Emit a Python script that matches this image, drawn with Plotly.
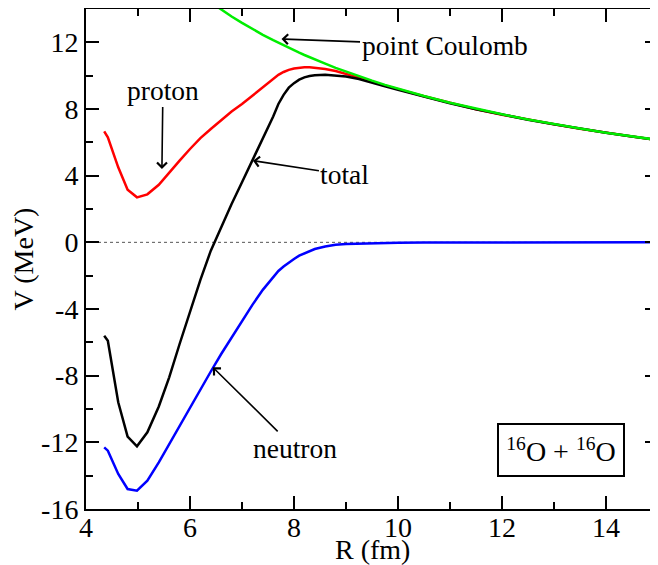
import plotly.graph_objects as go

# ---------------- data ----------------
R = [4.35, 4.42, 4.62, 4.8, 4.98, 5.18, 5.4, 5.6, 5.8, 6.0, 6.2, 6.4, 6.6, 6.8,
     7.0, 7.2, 7.4, 7.6, 7.7, 7.8, 7.9, 8.0, 8.1, 8.2, 8.3, 8.4, 8.6, 8.8, 9.0, 9.25, 9.5, 9.75,
     10.0, 10.5, 11.0, 11.5, 12.0, 12.5, 13.0, 13.5, 14.0, 14.5, 15.0]

V_proton = [6.66, 6.3, 4.5, 3.16, 2.7, 2.88, 3.45, 4.2, 4.9, 5.6, 6.25, 6.8, 7.35, 7.85,
            8.3, 8.8, 9.3, 9.8, 10.05, 10.22, 10.35, 10.43, 10.48, 10.5, 10.5, 10.48, 10.4, 10.28,
            10.12, 9.88, 9.63, 9.4,
            9.19, 8.76, 8.36, 7.99, 7.66, 7.36, 7.08, 6.82, 6.57, 6.35, 6.13]

V_total = [-5.6, -5.9, -9.6, -11.66, -12.24, -11.4, -9.85, -8.1, -6.1, -4.1, -2.25, -0.5, 0.95, 2.3,
           3.6, 4.9, 6.2, 7.55, 8.3, 8.85, 9.28, 9.55, 9.76, 9.9, 9.98, 10.02, 10.05, 10.02,
           9.95, 9.8, 9.57, 9.36,
           9.16, 8.75, 8.35, 7.99, 7.66, 7.36, 7.08, 6.82, 6.57, 6.35, 6.13]

V_neutron = [-12.3, -12.5, -13.9, -14.8, -14.9, -14.3, -13.2, -12.1, -11.0, -9.9, -8.8, -7.75, -6.7, -5.7,
             -4.75, -3.75, -2.85, -2.05, -1.72, -1.45, -1.2, -1.0, -0.8, -0.65, -0.5, -0.4, -0.25, -0.15,
             -0.1, -0.07, -0.05, -0.03,
             -0.02, -0.01, -0.01, 0.0, 0.0, 0.0, 0.0, 0.0, 0.0, 0.0, 0.0]

V_coulomb = [21.2, 20.9, 19.9, 19.2, 18.5, 17.8, 17.07, 16.46, 15.89, 15.36, 14.86, 14.4, 13.96, 13.55,
             13.17, 12.8, 12.45, 12.13, 11.97, 11.82, 11.67, 11.52, 11.38, 11.24, 11.1, 10.97, 10.72, 10.47,
             10.24, 9.96, 9.7, 9.45,
             9.22, 8.78, 8.38, 8.01, 7.68, 7.37, 7.09, 6.83, 6.58, 6.36, 6.14]

x_tick_vals = [4, 6, 8, 10, 12, 14]
x_tick_text = ["4", "6", "8", "10", "12", "14"]
y_tick_vals = [-16, -12, -8, -4, 0, 4, 8, 12]
y_tick_text = ["-16", "-12", "-8", "-4", "0", "4", "8", "12"]

FONT = "Liberation Serif"
FS = 28
FS_ANN = 27.5

fig = go.Figure()
fig.add_trace(go.Scatter(x=R, y=V_proton, mode="lines", line=dict(color="#ff0000", width=2.5)))
fig.add_trace(go.Scatter(x=R, y=V_total, mode="lines", line=dict(color="#000000", width=2.5)))
fig.add_trace(go.Scatter(x=R, y=V_neutron, mode="lines", line=dict(color="#0000ff", width=2.5)))
fig.add_trace(go.Scatter(x=R, y=V_coulomb, mode="lines", line=dict(color="#00ee00", width=2.5)))

# dotted zero line
fig.add_shape(type="line", xref="x domain", x0=0, x1=1, yref="y", y0=0, y1=0,
              line=dict(color="#555555", width=1, dash="dot"), layer="below")

ann_font = dict(family=FONT, size=FS_ANN, color="black")
arrow_kw = dict(showarrow=True, arrowhead=4, arrowsize=1.2, arrowwidth=1.6, arrowcolor="black",
                xref="x", yref="y", axref="pixel", ayref="pixel", font=ann_font)

fig.add_annotation(x=7.76, y=12.2, ax=163, ay=6, text="point Coulomb", **arrow_kw)
fig.add_annotation(x=5.46, y=4.4, ax=1, ay=-79, text="proton", **arrow_kw)
fig.add_annotation(x=7.21, y=4.9, ax=92, ay=14, text="total", **arrow_kw)
fig.add_annotation(x=6.44, y=-7.5, ax=82, ay=81, text="neutron", **arrow_kw)

# reaction label box
fig.add_annotation(x=0.831, y=0.119, xref="paper", yref="paper", xanchor="center", yanchor="middle",
                   showarrow=False,
                   text="<sup>16</sup>O + <sup>16</sup>O", font=dict(family=FONT, size=FS, color="black"),
                   bordercolor="black", borderwidth=2, borderpad=0, width=124, height=50,
                   bgcolor="white")

# x-axis title placed just below the tick labels
fig.add_annotation(x=0.5, y=0, xref="paper", yref="paper", xanchor="center", yanchor="middle",
                   yshift=-40, showarrow=False, text="R (fm)",
                   font=dict(family=FONT, size=FS, color="black"))

axis_common = dict(showline=True, linecolor="black", linewidth=2, mirror="ticks",
                   ticks="inside", ticklen=13, tickwidth=1.5, tickcolor="black",
                   showgrid=False, zeroline=False,
                   tickfont=dict(family=FONT, size=FS, color="black"))

fig.update_xaxes(range=[4, 15], tickmode="array", tickvals=x_tick_vals, ticktext=x_tick_text,
                 minor=dict(tickmode="linear", tick0=0, dtick=1, ticks="inside", ticklen=7,
                            tickwidth=1.5, tickcolor="black"),
                 ticklabelstandoff=-8,
                 **axis_common)
fig.update_yaxes(range=[-16, 14], tickmode="array", tickvals=y_tick_vals, ticktext=y_tick_text,
                 minor=dict(tickmode="linear", tick0=0, dtick=2, ticks="inside", ticklen=7,
                            tickwidth=1.5, tickcolor="black"),
                 title=dict(text="V (MeV)", font=dict(family=FONT, size=FS, color="black"), standoff=0),
                 **axis_common)

# the page body has an 8px default margin, so the figure is offset by 8px
fig.update_layout(width=650, height=557, showlegend=False,
                  margin=dict(l=78, r=0, t=1, b=56, autoexpand=False),
                  plot_bgcolor="white", paper_bgcolor="white")

fig.write_html("out.html")
